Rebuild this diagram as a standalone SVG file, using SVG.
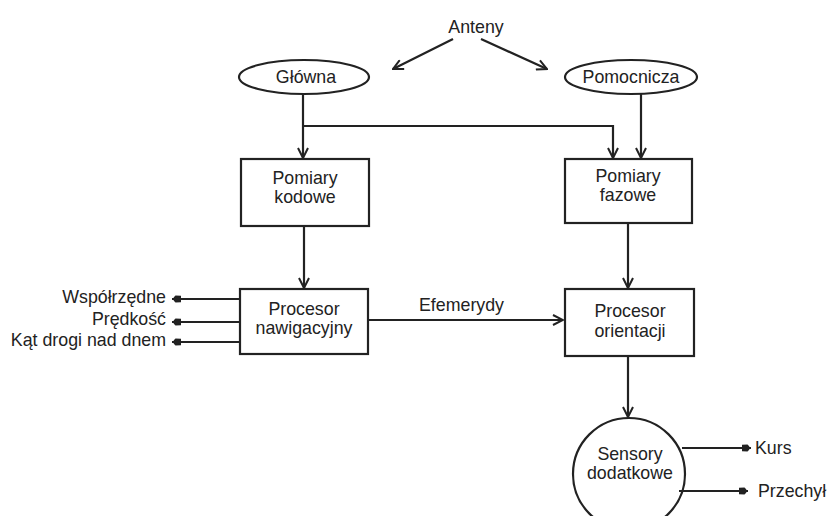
<svg xmlns="http://www.w3.org/2000/svg" width="829" height="516" viewBox="0 0 829 516">
<defs>
<marker id="v" viewBox="0 0 12 12" refX="11" refY="6" markerWidth="12" markerHeight="12" markerUnits="userSpaceOnUse" orient="auto">
<path d="M1,1 L11,6 L1,11" fill="none" stroke="#222" stroke-width="2"/>
</marker>
<marker id="dot" viewBox="0 0 10 8" refX="9" refY="4" markerWidth="10" markerHeight="8" markerUnits="userSpaceOnUse" orient="auto">
<path d="M0,0.8 L5.5,0.5 Q10,4 5.5,7.5 L0,7.2 Z" fill="#222"/>
</marker>
</defs>
<style>
text{font-family:"Liberation Sans",Arial,sans-serif;font-size:17.8px;fill:#222}
.c{text-anchor:middle}
.r{text-anchor:end}
.n{fill:#fff;stroke:#222;stroke-width:2.2}
.l{fill:none;stroke:#222;stroke-width:2.2}
</style>
<rect width="829" height="516" fill="#fff"/>
<g id="anteny"><text class="c" x="476" y="33">Anteny</text></g>
<g id="glowna"><ellipse class="n" cx="304" cy="77" rx="65" ry="17"/><text class="c" x="306" y="83">Główna</text></g>
<g id="pomocnicza"><ellipse class="n" cx="631" cy="77" rx="66" ry="17"/><text class="c" x="631" y="83">Pomocnicza</text></g>
<g id="kodowe"><rect class="n" x="241" y="159" width="128" height="67"/><text class="c" x="305" y="184">Pomiary</text><text class="c" x="305" y="203">kodowe</text></g>
<g id="fazowe"><rect class="n" x="565" y="159" width="127" height="64"/><text class="c" x="628" y="182">Pomiary</text><text class="c" x="628" y="201">fazowe</text></g>
<g id="nawig"><rect class="n" x="240" y="289" width="128" height="65"/><text class="c" x="304" y="315">Procesor</text><text class="c" x="304" y="334">nawigacyjny</text></g>
<g id="orient"><rect class="n" x="565" y="289" width="129" height="67"/><text class="c" x="630" y="317">Procesor</text><text class="c" x="630" y="337">orientacji</text></g>
<g id="sensory"><circle class="n" cx="629" cy="474" r="56"/><text class="c" x="630" y="460">Sensory</text><text class="c" x="630" y="479">dodatkowe</text></g>
<g id="outputs">
<text class="r" x="166" y="303">Współrzędne</text>
<text class="r" x="166" y="325">Prędkość</text>
<text class="r" x="166" y="346">Kąt drogi nad dnem</text>
<text x="755" y="454">Kurs</text>
<text x="758" y="497">Przechył</text>
<text x="419" y="311">Efemerydy</text>
</g>
<g id="connectors">
<line class="l" x1="453" y1="39" x2="393" y2="69" marker-end="url(#v)"/>
<line class="l" x1="481" y1="39" x2="547" y2="69" marker-end="url(#v)"/>
<polyline class="l" points="303,94 303,158" marker-end="url(#v)"/>
<polyline class="l" points="303,126 613,126 613,158" marker-end="url(#v)"/>
<polyline class="l" points="641,94 641,158" marker-end="url(#v)"/>
<polyline class="l" points="304,226 304,288" marker-end="url(#v)"/>
<polyline class="l" points="628,223 628,288" marker-end="url(#v)"/>
<polyline class="l" points="368,320 563,320" marker-end="url(#v)"/>
<polyline class="l" points="628,356 628,417" marker-end="url(#v)"/>
<line class="l" x1="240" y1="299" x2="172" y2="299" marker-end="url(#dot)"/>
<line class="l" x1="240" y1="322" x2="172" y2="322" marker-end="url(#dot)"/>
<line class="l" x1="240" y1="342" x2="172" y2="342" marker-end="url(#dot)"/>
<line class="l" x1="682" y1="448" x2="751" y2="448" marker-end="url(#dot)"/>
<line class="l" x1="679" y1="491" x2="748" y2="491" marker-end="url(#dot)"/>
</g>
</svg>
